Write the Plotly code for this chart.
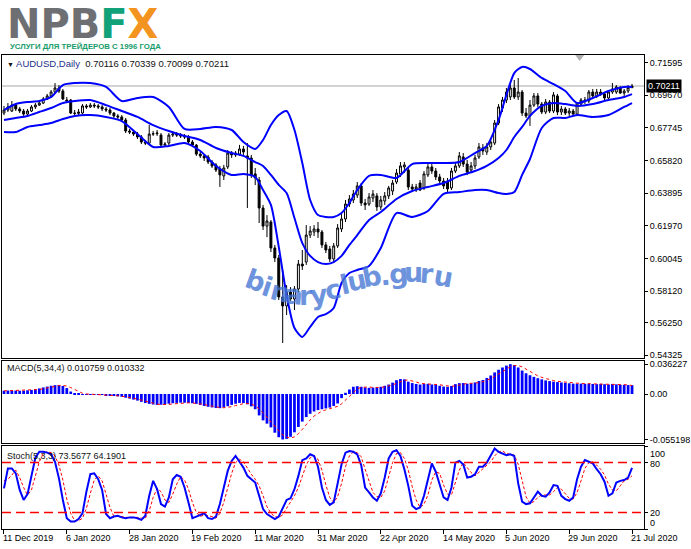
import plotly.graph_objects as go

# ---------------- data ----------------
date_labels = ["11 Dec 2019", "6 Jan 2020", "28 Jan 2020", "19 Feb 2020", "11 Mar 2020",
               "31 Mar 2020", "22 Apr 2020", "14 May 2020", "5 Jun 2020", "29 Jun 2020", "21 Jul 2020"]
label_bars = [0, 16, 32, 48, 64, 80, 96, 112, 128, 144, 160]

price_ticks = [0.71595, 0.69670, 0.67745, 0.65820, 0.63895, 0.61970, 0.60045, 0.58120, 0.56250, 0.54325]
price_tick_text = ["0.71595", "0.69670", "0.67745", "0.65820", "0.63895", "0.61970", "0.60045",
                   "0.58120", "0.56250", "0.54325"]

opens = [0.6862,0.6880,0.6874,0.6909,0.6886,0.6874,0.6856,0.6874,0.6898,0.6909,
         0.6921,0.6945,0.6963,0.6986,0.7010,0.6992,0.6939,0.6939,0.6862,0.6860,
         0.6862,0.6904,0.6898,0.6909,0.6904,0.6898,0.6886,0.6880,0.6862,0.6845,
         0.6839,0.6821,0.6756,0.6750,0.6738,0.6721,0.6691,0.6685,0.6738,0.6740,
         0.6732,0.6673,0.6685,0.6732,0.6738,0.6732,0.6727,0.6721,0.6691,0.6673,
         0.6620,0.6609,0.6603,0.6573,0.6556,0.6532,0.6491,0.6544,0.6626,0.6615,
         0.6620,0.6650,0.6609,0.6597,0.6503,0.6467,0.6302,0.6195,0.6219,0.6066,
         0.6007,0.5777,0.5724,0.5806,0.5765,0.5824,0.5971,0.5983,0.6142,0.6160,
         0.6178,0.6160,0.6084,0.6060,0.6001,0.6078,0.6178,0.6237,0.6325,0.6349,
         0.6378,0.6432,0.6331,0.6325,0.6361,0.6373,0.6308,0.6343,0.6373,0.6402,
         0.6455,0.6503,0.6544,0.6526,0.6426,0.6414,0.6449,0.6420,0.6497,0.6544,
         0.6520,0.6485,0.6461,0.6455,0.6420,0.6520,0.6550,0.6603,0.6561,0.6526,
         0.6550,0.6603,0.6656,0.6632,0.6662,0.6685,0.6803,0.6892,0.6939,0.6957,
         0.7010,0.6957,0.6986,0.6862,0.6845,0.6909,0.6963,0.6915,0.6868,0.6927,
         0.6874,0.6963,0.6868,0.6886,0.6862,0.6874,0.6856,0.6915,0.6939,0.6933,
         0.6986,0.6963,0.6986,0.6975,0.6951,0.6986,0.6986,0.7010,0.6980,0.6992,
         0.70116]
highs = [0.6904,0.6921,0.6933,0.6915,0.6898,0.6886,0.6886,0.6909,0.6921,0.6933,
         0.6957,0.6975,0.6998,0.7039,0.7027,0.7004,0.6957,0.6945,0.6880,0.6886,
         0.6915,0.6915,0.6921,0.6921,0.6915,0.6909,0.6898,0.6892,0.6868,0.6856,
         0.6850,0.6833,0.6768,0.6762,0.6750,0.6732,0.6703,0.6791,0.6756,0.6762,
         0.6744,0.6691,0.6744,0.6756,0.6750,0.6744,0.6738,0.6732,0.6703,0.6679,
         0.6632,0.6620,0.6615,0.6585,0.6567,0.6550,0.6556,0.6644,0.6638,0.6638,
         0.6674,0.6668,0.6685,0.6615,0.6538,0.6485,0.6320,0.6260,0.6231,0.6084,
         0.6025,0.5936,0.5847,0.5835,0.5841,0.5995,0.6054,0.6201,0.6195,0.6201,
         0.6219,0.6172,0.6101,0.6078,0.6095,0.6207,0.6266,0.6349,0.6378,0.6408,
         0.6455,0.6449,0.6355,0.6390,0.6408,0.6390,0.6373,0.6396,0.6432,0.6467,
         0.6532,0.6573,0.6573,0.6538,0.6444,0.6444,0.6467,0.6520,0.6562,0.6567,
         0.6538,0.6503,0.6479,0.6479,0.6538,0.6573,0.6632,0.6626,0.6585,0.6573,
         0.6615,0.6685,0.6679,0.6685,0.6709,0.6821,0.6915,0.6957,0.7010,0.7033,
         0.7057,0.7069,0.6998,0.6892,0.6939,0.6980,0.6980,0.6927,0.6945,0.6939,
         0.6986,0.6975,0.6904,0.6898,0.6892,0.6886,0.6927,0.6951,0.6957,0.6998,
         0.7004,0.7004,0.7004,0.6986,0.6998,0.7039,0.7027,0.7021,0.7004,0.7027,
         0.70339]
lows = [0.6850,0.6868,0.6868,0.6874,0.6862,0.6845,0.6845,0.6868,0.6886,0.6904,
        0.6915,0.6939,0.6951,0.6980,0.6980,0.6939,0.6921,0.6856,0.6845,0.6850,
        0.6856,0.6886,0.6892,0.6892,0.6886,0.6874,0.6868,0.6850,0.6833,0.6827,
        0.6809,0.6744,0.6738,0.6727,0.6709,0.6679,0.6673,0.6673,0.6727,0.6727,
        0.6662,0.6668,0.6673,0.6721,0.6721,0.6715,0.6709,0.6679,0.6662,0.6609,
        0.6597,0.6579,0.6561,0.6538,0.6514,0.6426,0.6467,0.6532,0.6597,0.6603,
        0.6609,0.6615,0.6302,0.6479,0.6437,0.6213,0.6172,0.6130,0.6042,0.5983,
        0.5759,0.5505,0.5670,0.5753,0.5700,0.5806,0.5936,0.5966,0.6125,0.6136,
        0.6125,0.6066,0.6036,0.5983,0.5983,0.6066,0.6160,0.6219,0.6308,0.6331,
        0.6361,0.6314,0.6290,0.6314,0.6337,0.6284,0.6290,0.6320,0.6355,0.6378,
        0.6443,0.6485,0.6508,0.6408,0.6396,0.6396,0.6402,0.6408,0.6485,0.6503,
        0.6467,0.6443,0.6414,0.6396,0.6408,0.6508,0.6538,0.6544,0.6496,0.6508,
        0.6532,0.6591,0.6615,0.6615,0.6644,0.6673,0.6791,0.6868,0.6921,0.6939,
        0.6945,0.6939,0.6845,0.6833,0.6786,0.6898,0.6898,0.6856,0.6856,0.6862,
        0.6862,0.6850,0.6850,0.6850,0.6845,0.6845,0.6850,0.6904,0.6915,0.6921,
        0.6951,0.6951,0.6963,0.6939,0.6939,0.6975,0.6975,0.6975,0.6963,0.6980,
        0.70099]
closes = [0.6880,0.6898,0.6909,0.6886,0.6874,0.6856,0.6874,0.6898,0.6909,0.6921,
          0.6945,0.6963,0.6986,0.7010,0.6992,0.6945,0.6933,0.6862,0.6860,0.6868,
          0.6904,0.6898,0.6909,0.6904,0.6898,0.6886,0.6880,0.6862,0.6845,0.6839,
          0.6821,0.6756,0.6750,0.6738,0.6721,0.6691,0.6685,0.6738,0.6740,0.6744,
          0.6673,0.6679,0.6732,0.6738,0.6732,0.6727,0.6721,0.6691,0.6673,0.6620,
          0.6609,0.6597,0.6573,0.6550,0.6526,0.6497,0.6538,0.6626,0.6615,0.6626,
          0.6650,0.6632,0.6597,0.6496,0.6479,0.6302,0.6195,0.6225,0.6066,0.6007,
          0.5777,0.5724,0.5806,0.5765,0.5824,0.5971,0.5960,0.6142,0.6166,0.6178,
          0.6160,0.6084,0.6054,0.6001,0.6078,0.6184,0.6237,0.6325,0.6355,0.6384,
          0.6432,0.6331,0.6320,0.6367,0.6384,0.6308,0.6349,0.6373,0.6420,0.6449,
          0.6508,0.6550,0.6556,0.6426,0.6414,0.6426,0.6408,0.6503,0.6544,0.6520,
          0.6485,0.6461,0.6432,0.6414,0.6520,0.6550,0.6609,0.6561,0.6514,0.6550,
          0.6597,0.6662,0.6638,0.6662,0.6691,0.6803,0.6898,0.6939,0.6986,0.7010,
          0.6957,0.6986,0.6862,0.6845,0.6909,0.6963,0.6915,0.6868,0.6927,0.6874,
          0.6969,0.6868,0.6886,0.6862,0.6874,0.6856,0.6921,0.6939,0.6933,0.6986,
          0.6963,0.6986,0.6975,0.6951,0.6986,0.7004,0.7016,0.6980,0.6992,0.7012,
          0.70211]

bb_idx = [0, 3, 6, 9, 12, 15, 18,
          22, 26, 30, 34, 38, 42, 46, 50, 54, 58,
          61, 64, 66, 68, 70, 72, 74, 76, 78, 80,
          82, 84, 86, 88, 90, 93, 96, 100, 104, 108,
          112, 116, 120, 123, 126, 128, 130, 132, 134, 137,
          140, 143, 146, 150, 154, 158, 160]
bb_upper = [0.6880,0.6915,0.6927,0.6933,0.6957,0.7027,0.7039,
            0.7039,0.7016,0.6933,0.6951,0.6957,0.6898,0.6768,0.6768,0.6780,0.6762,
            0.6691,0.6650,0.6703,0.6791,0.6850,0.6874,0.6762,0.6567,0.6349,0.6260,
            0.6249,0.6249,0.6272,0.6331,0.6408,0.6491,0.6497,0.6479,0.6561,0.6567,
            0.6567,0.6573,0.6626,0.6668,0.6821,0.6969,0.7098,0.7134,0.7122,0.7069,
            0.7033,0.6992,0.6921,0.6951,0.6992,0.7016,0.7016]
bb_mid = [0.6821,0.6833,0.6845,0.6868,0.6892,0.6921,0.6933,
          0.6939,0.6909,0.6874,0.6839,0.6791,0.6756,0.6727,0.6703,0.6656,0.6626,
          0.6609,0.6573,0.6550,0.6497,0.6438,0.6390,0.6243,0.6095,0.6019,0.5983,
          0.5971,0.5983,0.6019,0.6084,0.6142,0.6231,0.6278,0.6355,0.6402,0.6426,
          0.6449,0.6491,0.6520,0.6550,0.6597,0.6644,0.6721,0.6780,0.6845,0.6904,
          0.6921,0.6915,0.6904,0.6915,0.6939,0.6957,0.6974]
bb_lower = [0.6750,0.6750,0.6780,0.6791,0.6803,0.6827,0.6845,
            0.6850,0.6839,0.6815,0.6738,0.6662,0.6668,0.6685,0.6638,0.6550,0.6497,
            0.6503,0.6485,0.6408,0.6320,0.6072,0.5788,0.5594,0.5541,0.5600,0.5659,
            0.5676,0.5712,0.5859,0.5918,0.5936,0.5960,0.6066,0.6272,0.6249,0.6284,
            0.6385,0.6396,0.6408,0.6408,0.6390,0.6385,0.6396,0.6497,0.6591,0.6774,
            0.6833,0.6833,0.6850,0.6839,0.6850,0.6898,0.6921]

macd_hist = [0.0040,0.0042,0.0043,0.0042,0.0040,0.0041,0.0045,0.0050,0.0058,0.0068,
             0.0080,0.0090,0.0100,0.0108,0.0110,0.0098,0.0072,0.0030,0.0008,0.0002,
             -0.0002,-0.0003,-0.0002,-0.0005,-0.0008,-0.0012,-0.0016,-0.0020,-0.0024,-0.0028,
             -0.0034,-0.0045,-0.0056,-0.0068,-0.0080,-0.0095,-0.0110,-0.0120,-0.0128,-0.0132,
             -0.0130,-0.0125,-0.0118,-0.0112,-0.0108,-0.0105,-0.0106,-0.0108,-0.0112,-0.0120,
             -0.0132,-0.0145,-0.0155,-0.0163,-0.0170,-0.0172,-0.0162,-0.0148,-0.0132,-0.0118,
             -0.0108,-0.0110,-0.0125,-0.0150,-0.0185,-0.0260,-0.0320,-0.0360,-0.0405,-0.0470,
             -0.0525,-0.055198,-0.0545,-0.0520,-0.0465,-0.0400,-0.0335,-0.0280,-0.0240,-0.0212,
             -0.0195,-0.0185,-0.0175,-0.0165,-0.0145,-0.0115,-0.0050,0.0015,0.0055,0.0088,
             0.0095,0.0088,0.0080,0.0075,0.0078,0.0080,0.0088,0.0100,0.0115,0.0138,
             0.0168,0.0182,0.0178,0.0150,0.0133,0.0122,0.0115,0.0122,0.0124,0.0116,
             0.0110,0.0100,0.0090,0.0087,0.0098,0.0120,0.0132,0.0133,0.0125,0.0128,
             0.0140,0.0158,0.0170,0.0195,0.0225,0.0262,0.0295,0.0322,0.0345,0.036227,
             0.0352,0.0322,0.0285,0.0252,0.0228,0.0208,0.0192,0.0178,0.0165,0.0157,
             0.0150,0.0145,0.0140,0.0135,0.0130,0.0126,0.0124,0.0126,0.0124,0.0126,
             0.0122,0.0120,0.0123,0.0119,0.0116,0.0121,0.0117,0.0112,0.0111,0.0109,
             0.010759]
macd_signal = [0.0038,0.0040,0.0041,0.0042,0.0042,0.0042,0.0042,0.0044,0.0049,0.0055,
               0.0064,0.0074,0.0084,0.0095,0.0102,0.0104,0.0097,0.0078,0.0052,0.0028,
               0.0009,0.0001,-0.0001,-0.0003,-0.0005,-0.0007,-0.0010,-0.0014,-0.0018,-0.0022,
               -0.0027,-0.0033,-0.0041,-0.0051,-0.0062,-0.0075,-0.0088,-0.0101,-0.0113,-0.0123,
               -0.0128,-0.0129,-0.0126,-0.0121,-0.0116,-0.0111,-0.0108,-0.0107,-0.0108,-0.0112,
               -0.0118,-0.0127,-0.0138,-0.0149,-0.0158,-0.0165,-0.0167,-0.0163,-0.0154,-0.0140,
               -0.0127,-0.0117,-0.0115,-0.0123,-0.0143,-0.0180,-0.0229,-0.0281,-0.0336,-0.0389,
               -0.0450,-0.0498,-0.0523,-0.0536,-0.0521,-0.0483,-0.0430,-0.0370,-0.0314,-0.0267,
               -0.0232,-0.0208,-0.0192,-0.0180,-0.0168,-0.0150,-0.0119,-0.0074,-0.0024,0.0027,
               0.0063,0.0082,0.0088,0.0085,0.0080,0.0078,0.0080,0.0087,0.0096,0.0110,
               0.0130,0.0151,0.0167,0.0170,0.0161,0.0146,0.0130,0.0123,0.0121,0.0119,
               0.0118,0.0113,0.0104,0.0097,0.0094,0.0099,0.0109,0.0121,0.0128,0.0130,
               0.0132,0.0138,0.0149,0.0166,0.0187,0.0213,0.0244,0.0276,0.0306,0.0332,
               0.0346,0.0347,0.0330,0.0303,0.0272,0.0243,0.0220,0.0202,0.0186,0.0173,
               0.0163,0.0154,0.0148,0.0143,0.0138,0.0133,0.0129,0.0127,0.0126,0.0125,
               0.0125,0.0123,0.0123,0.0121,0.0120,0.0120,0.0118,0.0117,0.0115,0.0112,
               0.010332]

stoch_main = [49,73,73,67,47,35,42,63,86,93,
              93,92,90,81,61,35,13,9,9,12,
              19,45,66,67,60,47,18,13,15,16,
              14,13,14,14,13,11,16,40,58,48,
              30,27,38,60,65,63,50,32,13,15,
              17,19,13,12,15,30,50,70,82,88,
              81,74,64,60,56,40,24,18,15,12,
              15,25,35,37,48,64,83,85,90,88,
              75,50,35,29,32,55,78,92,94,93,
              90,77,50,44,38,34,43,62,85,93,
              95,88,72,52,28,24,26,40,58,79,
              69,53,38,35,50,80,82,78,62,63,
              66,75,75,80,88,97,93,91,89,90,
              88,55,33,30,31,38,45,40,39,44,
              53,52,40,36,34,38,60,75,83,81,
              79,72,66,57,40,43,56,58,59,62,
              73.5677]
stoch_signal = [58,60,65,71,62,50,41,47,64,81,
                91,93,92,88,77,59,36,19,10,10,
                13,25,43,59,64,58,42,26,15,15,
                15,14,14,14,14,13,13,22,38,49,
                45,35,32,42,54,63,59,48,32,20,
                15,17,16,15,13,19,32,50,67,80,
                84,81,73,66,60,52,40,27,19,15,
                14,17,25,32,40,50,65,77,86,88,
                84,71,53,38,32,39,55,75,88,93,
                92,87,72,57,44,39,38,46,63,80,
                91,92,85,71,51,35,26,30,41,59,
                69,67,53,42,41,55,71,80,74,68,
                64,68,72,77,81,88,93,94,91,90,
                89,78,59,39,31,33,38,41,41,41,
                45,50,48,43,37,36,44,58,73,80,
                81,77,72,65,54,47,46,52,58,60,
                64.1901]

bars = list(range(len(closes)))

# ---------------- geometry helpers (decoration only) ----------------
W, H = 691, 549
ML, MR, MT, MB = 1, 46, 55, 20


def fx(px):
    return (px - ML) / (W - ML - MR)


def fy(py):
    return (H - MB - py) / (H - MT - MB)


XR = [-0.508, 163.05]
FONT = "Liberation Sans, Arial, sans-serif"

fig = go.Figure()

fig.add_trace(go.Candlestick(
    x=bars, open=opens, high=highs, low=lows, close=closes,
    increasing=dict(line=dict(color="black", width=1), fillcolor="white"),
    decreasing=dict(line=dict(color="black", width=1), fillcolor="black"),
    whiskerwidth=0, xaxis="x", yaxis="y", showlegend=False, hoverinfo="skip"))

for band in (bb_upper, bb_mid, bb_lower):
    fig.add_trace(go.Scatter(x=bb_idx, y=band, mode="lines",
                             line=dict(color="#0000ff", width=2, shape="spline", smoothing=0.7),
                             xaxis="x", yaxis="y", showlegend=False, hoverinfo="skip"))

fig.add_trace(go.Bar(x=bars, y=macd_hist, width=0.7,
                     marker=dict(color="#0000ff", line=dict(width=0)),
                     xaxis="x2", yaxis="y2", showlegend=False, hoverinfo="skip"))
fig.add_trace(go.Scatter(x=bars, y=macd_signal, mode="lines",
                         line=dict(color="#ff0000", width=1, dash="dot"),
                         xaxis="x2", yaxis="y2", showlegend=False, hoverinfo="skip"))

fig.add_trace(go.Scatter(x=bars, y=stoch_signal, mode="lines",
                         line=dict(color="#ff0000", width=1, dash="3px,2px"),
                         xaxis="x3", yaxis="y3", showlegend=False, hoverinfo="skip"))
fig.add_trace(go.Scatter(x=bars, y=stoch_main, mode="lines",
                         line=dict(color="#0000ff", width=2),
                         xaxis="x3", yaxis="y3", showlegend=False, hoverinfo="skip"))

axis_common = dict(showgrid=False, zeroline=False, showline=True, mirror=True,
                   linecolor="black", linewidth=1)

fig.update_layout(
    width=W, height=H,
    margin=dict(l=ML, r=MR, t=MT, b=MB),
    paper_bgcolor="white", plot_bgcolor="white",
    showlegend=False,
    font=dict(family=FONT, size=9, color="black"),
    xaxis=dict(domain=[0, 1], range=XR, anchor="y", showticklabels=False, ticks="",
               rangeslider=dict(visible=False), **axis_common),
    xaxis2=dict(domain=[0, 1], range=XR, anchor="y2", showticklabels=False, ticks="",
                **axis_common),
    xaxis3=dict(domain=[0, 1], range=XR, anchor="y3", showticklabels=False,
                tickvals=label_bars, ticks="outside", ticklen=4, tickcolor="black",
                **axis_common),
    yaxis=dict(domain=[fy(358), 1], range=[0.54168, 0.72045], side="right",
               tickvals=price_ticks, ticktext=price_tick_text, ticks="outside", ticklen=3,
               tickcolor="black", tickfont=dict(size=9), **axis_common),
    yaxis2=dict(domain=[fy(443), fy(361)], range=[-0.0595, 0.0401], side="right",
                tickvals=[0.036227, 0.0, -0.055198],
                ticktext=["0.036227", "0.00", "-0.055198"], ticks="outside", ticklen=3,
                tickcolor="black", tickfont=dict(size=9), **axis_common),
    yaxis3=dict(domain=[0, fy(446)], range=[0, 100], side="right",
                tickvals=[100, 80, 20, 0], showticklabels=False, ticks="outside", ticklen=3,
                tickcolor="black", **axis_common),
)

shapes = [
    dict(type="line", xref="x domain", yref="y", x0=0, x1=1, y0=closes[-1], y1=closes[-1],
         line=dict(color="#c4c4c4", width=1.5), layer="below"),
    dict(type="line", xref="x3 domain", yref="y3", x0=0, x1=1, y0=80, y1=80,
         line=dict(color="#ff0000", width=1.5, dash="9px,5px")),
    dict(type="line", xref="x3 domain", yref="y3", x0=0, x1=1, y0=20, y1=20,
         line=dict(color="#ff0000", width=1.5, dash="9px,5px")),
    dict(type="path", xref="paper", yref="paper",
         path=f"M {fx(576)},{fy(55)} L {fx(585)},{fy(55)} L {fx(580.5)},{fy(61)} Z",
         fillcolor="#b0b0b0", line=dict(width=0)),
]
fig.update_layout(shapes=shapes)

ann = []
# logo
ann.append(dict(xref="paper", yref="paper", x=fx(4), y=fy(24), xanchor="left", yanchor="middle",
                showarrow=False,
                text="<b><span style='color:#6e6f72'>NPB</span><span style='color:#12a27a'>F</span>"
                     "<span style='color:#f49420'>X</span></b>",
                font=dict(family="DejaVu Sans, sans-serif", size=40)))
ann.append(dict(xref="paper", yref="paper", x=fx(7), y=fy(46.5), xanchor="left", yanchor="middle",
                showarrow=False, text="<b>УСЛУГИ ДЛЯ ТРЕЙДЕРОВ С 1996 ГОДА</b>",
                font=dict(family="Liberation Sans, Arial, sans-serif", size=7.8, color="#179c6a")))
# header
ann.append(dict(xref="paper", yref="paper", x=fx(4), y=fy(63), xanchor="left", yanchor="middle",
                showarrow=False,
                text="<span style='font-size:7px'>▼</span> <span style='color:#1c2f8a'>AUDUSD,Daily</span>"
                     "  0.70116 0.70339 0.70099 0.70211",
                font=dict(family=FONT, size=9.5, color="#111111")))
ann.append(dict(xref="paper", yref="paper", x=fx(4), y=fy(368), xanchor="left", yanchor="middle",
                showarrow=False, text="MACD(5,34,4) 0.010759 0.010332",
                font=dict(family=FONT, size=9, color="#111111")))
ann.append(dict(xref="paper", yref="paper", x=fx(4), y=fy(456), xanchor="left", yanchor="middle",
                showarrow=False, text="Stoch(5,3,3) 73.5677 64.1901",
                font=dict(family=FONT, size=9, color="#111111")))
# current price box
ann.append(dict(xref="paper", yref="y", x=1, y=closes[-1], xanchor="left", yanchor="middle",
                xshift=2, showarrow=False, text="0.70211", bgcolor="black", borderpad=1,
                font=dict(family=FONT, size=9, color="white")))
# stochastic level labels
for txt, py in (("100", 454), ("80", 464), ("20", 513), ("0", 523)):
    ann.append(dict(xref="paper", yref="paper", x=1, y=fy(py), xanchor="left", yanchor="middle",
                    xshift=4, showarrow=False, text=txt, font=dict(family=FONT, size=9)))
# date labels
for b, lbl in zip(label_bars, date_labels):
    ann.append(dict(xref="x3", yref="paper", x=b, y=0, xanchor="left", yanchor="top",
                    xshift=-3, yshift=-2, showarrow=False, text=lbl, font=dict(family=FONT, size=9)))
# watermark on an arc
wm = [("b", 255, 280, 20), ("i", 267, 286, 18), ("n", 280, 291, 14), ("a", 294, 294, 6),
      ("r", 306, 295, 0), ("y", 319, 294, -6), ("c", 333, 289, -10), ("l", 345, 284, -12),
      ("u", 357, 280, -12), ("b", 372, 276, -10), (".", 385, 275, -6), ("g", 399, 273, -4),
      ("u", 414, 272, 0), ("r", 427, 273, 4), ("u", 444, 276, 10)]
for ch, px, py, ang in wm:
    ann.append(dict(xref="paper", yref="paper", x=fx(px), y=fy(py), xanchor="center",
                    yanchor="middle", showarrow=False, text=f"<b>{ch}</b>", textangle=ang,
                    font=dict(family="DejaVu Sans, sans-serif", size=27,
                              color="rgba(70,118,212,0.78)")))
fig.update_layout(annotations=ann)

fig.write_html("out.html", config={"displayModeBar": False},
               post_script="document.body.style.margin='0px';document.body.style.padding='0px';")
